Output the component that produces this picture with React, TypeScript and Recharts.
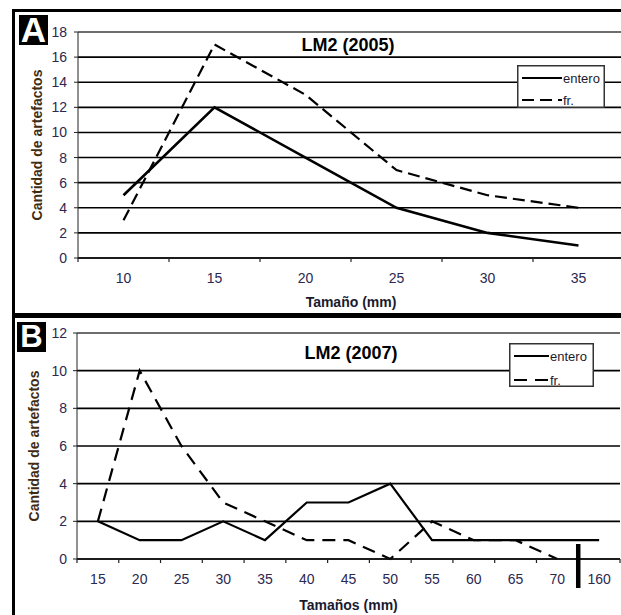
import React from "react";
import {
  LineChart,
  Line,
  XAxis,
  YAxis,
  CartesianGrid,
  ReferenceLine,
  Legend,
  Label,
} from "recharts";

// Panel A: LM2 (2005)
const sizesA = ["10", "15", "20", "25", "30", "35"];
const enteroA = [5, 12, 8, 4, 2, 1];
const frA = [3, 17, 13, 7, 5, 4];
const yTicksA = [0, 2, 4, 6, 8, 10, 12, 14, 16, 18];

// Panel B: LM2 (2007)
const sizesB = ["15", "20", "25", "30", "35", "40", "45", "50", "55", "60", "65", "70", "160"];
const enteroB = [2, 1, 1, 2, 1, 3, 3, 4, 1, 1, 1, 1, 1];
const frB: (number | null)[] = [2, 10, 6, 3, 2, 1, 1, 0, 2, 1, 1, 0, null];
const yTicksB = [0, 2, 4, 6, 8, 10, 12];

const FONT = '"Liberation Sans", Arial, Helvetica, sans-serif';
const TICK_COLOR = "#2c2850";
const YTITLE_COLOR = "#3f2b12";

const dataA = sizesA.map((size, i) => ({ size, entero: enteroA[i], fr: frA[i] }));
const dataB = sizesB.map((size, i) => ({ size, entero: enteroB[i], fr: frB[i] }));

// plot geometry (px)
const CHART_W = 640;
const A_LEFT = 78;
const A_RIGHT = 16;
const B_LEFT = 77;
const B_RIGHT = 20;
const BAND_A = (CHART_W - A_LEFT - A_RIGHT) / sizesA.length;
const BAND_B = (CHART_W - B_LEFT - B_RIGHT) / sizesB.length;

// Excel-like ticks: marks sit between categories, label in the middle.
// breakIdx gets the thick axis-break bar instead of a normal mark.
const makeTick = (cats: string[], band: number, breakIdx = -1) => (props: any) => {
  const { x, y, payload } = props;
  const idx = cats.indexOf(String(payload.value));
  const left = x - band / 2;
  return (
    <g>
      {idx === breakIdx ? (
        <rect x={left - 2.25} y={y - 15} width={4.5} height={44} fill="#000" />
      ) : (
        <line x1={left} x2={left} y1={y} y2={y + 4} stroke="#222" strokeWidth={1.2} />
      )}
      {idx === cats.length - 1 && (
        <line x1={x + band / 2} x2={x + band / 2} y1={y} y2={y + 4} stroke="#222" strokeWidth={1.2} />
      )}
      <text x={x} y={y + 25} textAnchor="middle" fontSize={14} fill={TICK_COLOR} fontFamily={FONT}>
        {payload.value}
      </text>
    </g>
  );
};

const TickA = makeTick(sizesA, BAND_A);
const TickB = makeTick(sizesB, BAND_B, 12);

const LegendBox = ({ payload, w, h, lineLen, rowY }: any) => (
  <svg width={w} height={h} style={{ display: "block" }}>
    <rect x={0.75} y={0.75} width={w - 1.5} height={h - 1.5} fill="#fff" stroke="#333" strokeWidth={1.5} />
    {(payload || []).map((entry: any, i: number) => (
      <g key={entry.value}>
        <line
          x1={5}
          x2={5 + lineLen}
          y1={rowY[i]}
          y2={rowY[i]}
          stroke="#000"
          strokeWidth={2.2}
          strokeDasharray={entry.payload?.strokeDasharray}
        />
        <text x={6 + lineLen} y={rowY[i] + 4.5} fontSize={13} fill="#1a1a2e" fontFamily={FONT}>
          {entry.value}
        </text>
      </g>
    ))}
  </svg>
);

const panelLetter = (left: number, top: number, size: number): React.CSSProperties => ({
  position: "absolute",
  left,
  top,
  width: 29,
  height: 30,
  background: "#000",
  color: "#fff",
  fontWeight: 700,
  fontSize: size,
  lineHeight: "30px",
  textAlign: "center",
  fontFamily: FONT,
});

const titleStyle = (top: number, center: number): React.CSSProperties => ({
  position: "absolute",
  left: center - 100,
  top,
  width: 200,
  textAlign: "center",
  fontWeight: 700,
  fontSize: 18,
  lineHeight: "18px",
  color: "#000",
  fontFamily: FONT,
});

export default function App() {
  return (
    <div
      style={{
        position: "absolute",
        left: 0,
        top: 0,
        width: 621,
        height: 615,
        overflow: "hidden",
        background: "#fff",
        fontFamily: FONT,
      }}
    >
      {/* Panel A */}
      <div style={{ position: "absolute", left: 0, top: 0 }}>
        <LineChart
          width={CHART_W}
          height={310}
          data={dataA}
          margin={{ top: 32, right: A_RIGHT, bottom: 0, left: 0 }}
        >
          <CartesianGrid vertical={false} stroke="#000" strokeWidth={1.6} />
          <XAxis
            dataKey="size"
            scale="band"
            height={52}
            interval={0}
            tickLine={false}
            tickSize={0}
            tickMargin={0}
            tick={<TickA />}
            axisLine={{ stroke: "#111", strokeWidth: 1.6 }}
          >
            <Label
              value="Tamaño (mm)"
              position="insideBottom"
              offset={3}
              style={{ fontSize: 14, fontWeight: 700, fill: "#1a1a2e", fontFamily: FONT }}
            />
          </XAxis>
          <YAxis
            width={A_LEFT}
            domain={[0, 18]}
            ticks={yTicksA}
            interval={0}
            tickSize={4}
            tickMargin={7}
            tick={{ fontSize: 14, fill: TICK_COLOR, fontFamily: FONT }}
            tickLine={{ stroke: "#222" }}
            axisLine={{ stroke: "#222" }}
          >
            <Label
              value="Cantidad de artefactos"
              angle={-90}
              position="insideLeft"
              offset={37}
              style={{ fontSize: 14, fontWeight: 700, fill: YTITLE_COLOR, fontFamily: FONT, textAnchor: "middle" }}
            />
          </YAxis>
          <YAxis
            yAxisId="edge"
            orientation="right"
            width={0}
            domain={[0, 1]}
            tick={false}
            tickLine={false}
            axisLine={{ stroke: "#999" }}
          />
          <ReferenceLine y={18} stroke="#999" strokeWidth={1.2} />
          <Line
            dataKey="entero"
            name="entero"
            stroke="#000"
            strokeWidth={2.6}
            dot={false}
            isAnimationActive={false}
          />
          <Line
            dataKey="fr"
            name="fr."
            stroke="#000"
            strokeWidth={2.2}
            strokeDasharray="12 6"
            dot={false}
            isAnimationActive={false}
          />
          <Legend
            layout="vertical"
            align="center"
            verticalAlign="middle"
            wrapperStyle={{ left: 517, top: 65, width: 88, height: 43 }}
            content={(p: any) => <LegendBox payload={p.payload} w={88} h={43} lineLen={40} rowY={[13, 35]} />}
          />
        </LineChart>
      </div>

      {/* Panel B */}
      <div style={{ position: "absolute", left: 0, top: 310 }}>
        <LineChart
          width={CHART_W}
          height={305}
          data={dataB}
          margin={{ top: 23, right: B_RIGHT, bottom: 0, left: 0 }}
        >
          <CartesianGrid vertical={false} stroke="#000" strokeWidth={1.6} />
          <XAxis
            dataKey="size"
            scale="band"
            height={56}
            interval={0}
            tickLine={false}
            tickSize={0}
            tickMargin={0}
            tick={<TickB />}
            axisLine={{ stroke: "#111", strokeWidth: 1.6 }}
          >
            <Label
              value="Tamaños (mm)"
              position="insideBottom"
              offset={5}
              style={{ fontSize: 14, fontWeight: 700, fill: "#1a1a2e", fontFamily: FONT }}
            />
          </XAxis>
          <YAxis
            width={B_LEFT}
            domain={[0, 12]}
            ticks={yTicksB}
            interval={0}
            tickSize={4}
            tickMargin={6}
            tick={{ fontSize: 14, fill: TICK_COLOR, fontFamily: FONT }}
            tickLine={{ stroke: "#222" }}
            axisLine={{ stroke: "#222" }}
          >
            <Label
              value="Cantidad de artefactos"
              angle={-90}
              position="insideLeft"
              offset={34}
              style={{ fontSize: 14, fontWeight: 700, fill: YTITLE_COLOR, fontFamily: FONT, textAnchor: "middle" }}
            />
          </YAxis>
          <YAxis
            yAxisId="edge"
            orientation="right"
            width={0}
            domain={[0, 1]}
            tick={false}
            tickLine={false}
            axisLine={{ stroke: "#999" }}
          />
          <ReferenceLine y={12} stroke="#999" strokeWidth={1.2} />
          <Line
            dataKey="entero"
            name="entero"
            stroke="#000"
            strokeWidth={2.2}
            dot={false}
            isAnimationActive={false}
          />
          <Line
            dataKey="fr"
            name="fr."
            stroke="#000"
            strokeWidth={2.2}
            strokeDasharray="13 8"
            dot={false}
            isAnimationActive={false}
          />
          <Legend
            layout="vertical"
            align="center"
            verticalAlign="middle"
            wrapperStyle={{ left: 509, top: 33, width: 85, height: 44 }}
            content={(p: any) => <LegendBox payload={p.payload} w={85} h={44} lineLen={35} rowY={[13, 37]} />}
          />
        </LineChart>
      </div>

      {/* titles and panel letters */}
      <div style={titleStyle(36, 348)}>LM2 (2005)</div>
      <div style={titleStyle(344, 351)}>LM2 (2007)</div>
      <div style={panelLetter(19, 15, 35)}>A</div>
      <div style={panelLetter(17, 322, 31)}>B</div>

      {/* figure frame */}
      <div style={{ position: "absolute", left: 12, top: 9, width: 3, height: 615, background: "#000" }} />
      <div style={{ position: "absolute", left: 12, top: 9, width: 621, height: 3, background: "#000" }} />
      <div style={{ position: "absolute", left: 12, top: 313, width: 621, height: 5, background: "#000" }} />
    </div>
  );
}
